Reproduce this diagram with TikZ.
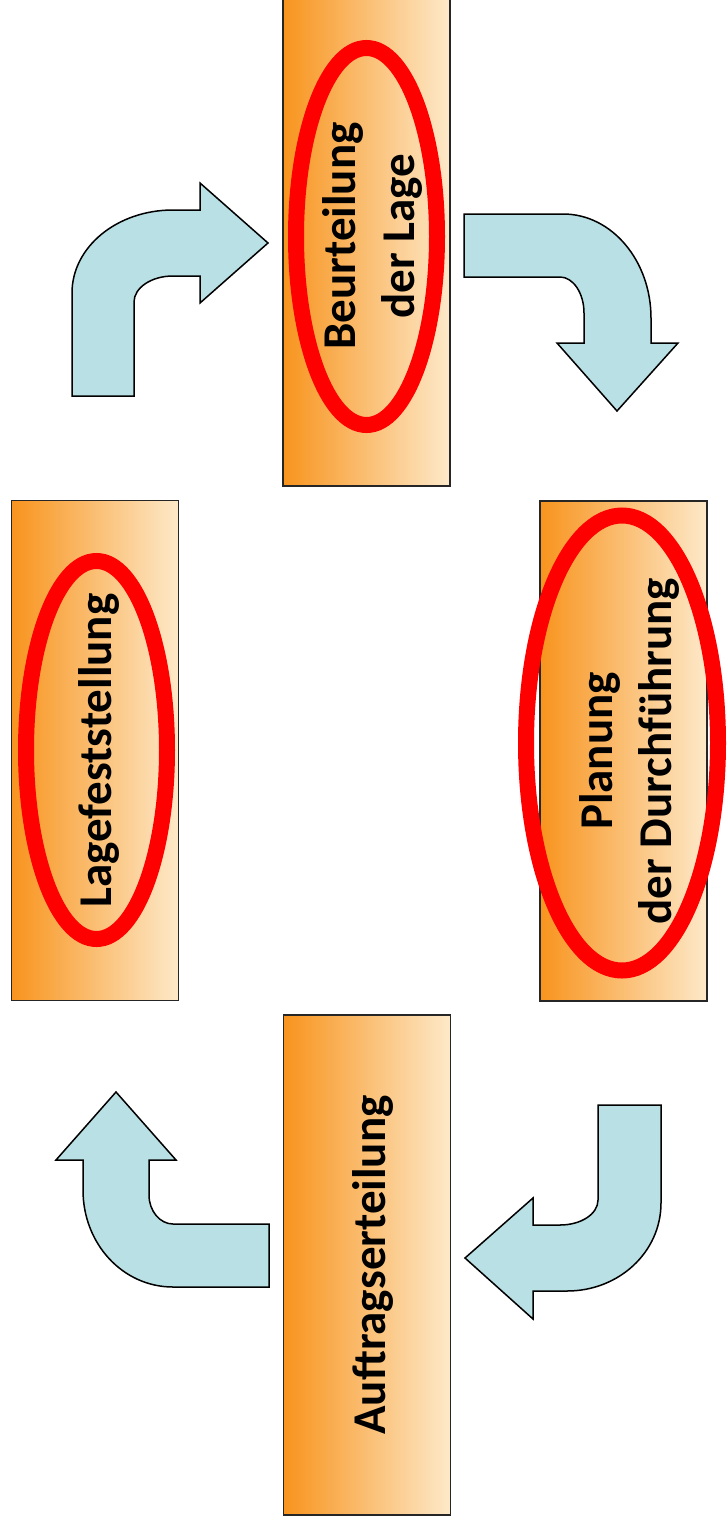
\documentclass[tikz,border=0pt]{standalone}
\usepackage{fontspec}
\setmainfont{Carlito}
\definecolor{phaseorange}{RGB}{248,148,30}
\definecolor{phaselight}{RGB}{253,233,201}
\definecolor{arrowblue}{RGB}{185,224,228}
\tikzset{
  phase/.style={draw=black!85, line width=1.5pt, left color=phaseorange,
    right color=phaselight, minimum width=167pt, minimum height=500pt, inner sep=0pt},
  ring/.style={draw=red, line width=16pt},
  phasetext/.style={rotate=90, align=center, inner sep=0pt,
    font=\bfseries\fontsize{47pt}{59pt}\selectfont},
  bendarrow/.style={fill=arrowblue, draw=black, line width=1.5pt, line join=miter},
}

\begin{document}
\begin{tikzpicture}[x=1pt,y=-1pt]
    \useasboundingbox (0,0) rectangle (726,1528);

    % the four phases
    \node[phase] (beurteilung) at (366.5,236) {};
    \node[phase] (lage) at (95,750.5) {};
    \node[phase] (planung) at (623.5,751) {};
    \node[phase] (auftrag) at (367,1265) {};

    % red rings
    \draw[ring] (366.5,236.5) ellipse (70.5 and 188.5);
    \draw[ring] (96.5,750) ellipse (70.5 and 189);
    \draw[ring] (622,743) ellipse (96 and 227.5);

    % labels
    \node[phasetext] at ([xshift=6pt]beurteilung.center) {Beurteilung\\der Lage};
    \node[phasetext] at ([xshift=4pt]lage.center) {Lagefeststellung};
    \node[phasetext] at ([xshift=6pt]planung.center) {Planung\\der Durchführung};
    \node[phasetext] at ([xshift=6pt]auftrag.center) {Auftragserteilung};

    % bent arrows round the cycle
    \draw[bendarrow] (72,396) -- (72,293) .. controls (72,247) and (117,210) .. (173,210)
        -- (200,210) -- (200,183) -- (268,243) -- (200,303) -- (200,276) -- (173,276)
        .. controls (151,276) and (134,288) .. (134,302) -- (134,396) -- cycle;
    \draw[bendarrow] (464,214) -- (563,214) .. controls (612,214) and (651,261) .. (651,318)
        -- (651,343) -- (678,343) -- (617,411) -- (557,343) -- (584,343) -- (584,313)
        .. controls (584,293) and (573,277) .. (560,277) -- (464,277) -- cycle;
    \draw[bendarrow] (598,1105) -- (661,1105) -- (661,1203) .. controls (661,1252) and (619,1291) .. (567,1291)
        -- (533,1291) -- (533,1319) -- (465,1258) -- (533,1198) -- (533,1225) -- (560,1225)
        .. controls (581,1225) and (598,1214) .. (598,1200) -- cycle;
    \draw[bendarrow] (269,1224) -- (269,1287) -- (173,1287) .. controls (123,1287) and (83,1244) .. (83,1190)
        -- (83,1160) -- (56,1160) -- (116,1092) -- (176,1160) -- (149,1160) -- (149,1195)
        .. controls (149,1211) and (160,1224) .. (173,1224) -- cycle;
\end{tikzpicture}
\end{document}
